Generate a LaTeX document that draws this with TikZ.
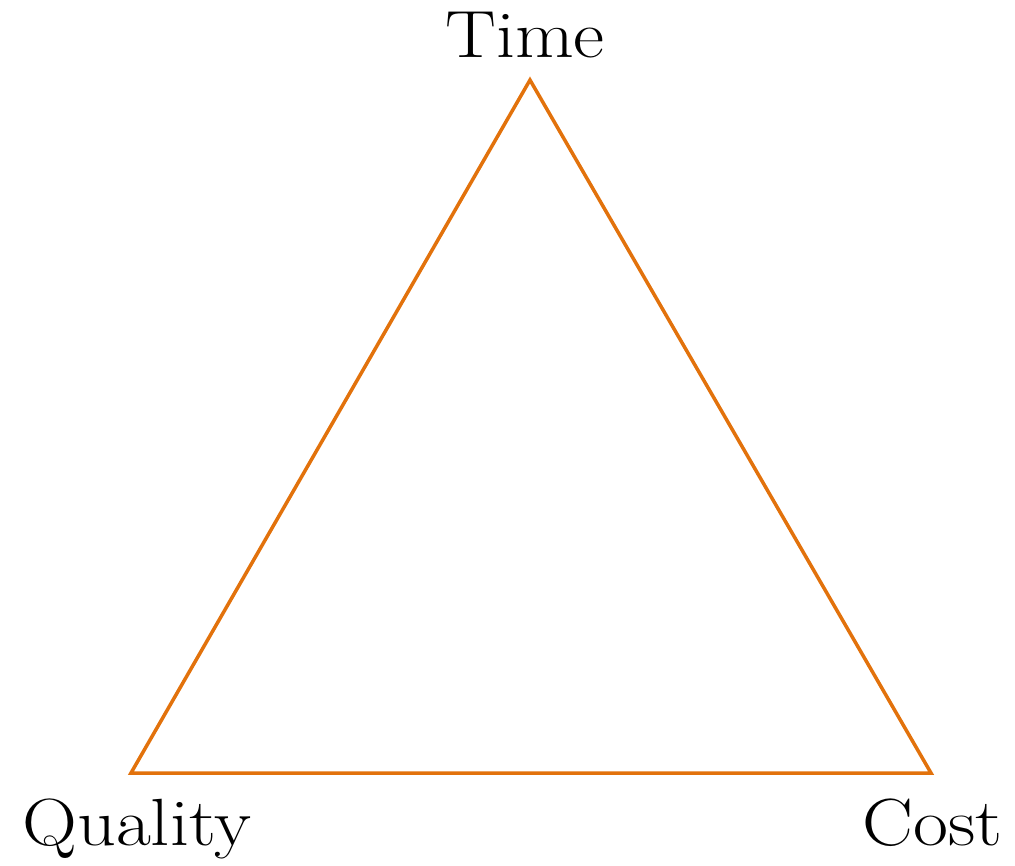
\documentclass[tikz,border=0pt]{standalone}
\usepackage{fontspec}
\usepackage{tikz}
\usetikzlibrary{positioning,calc}
\newfontfamily\labelfont{Latin Modern Roman}[FakeStretch=1.14]
\definecolor{edgeorange}{RGB}{226,114,12}
\tikzset{
corner/.style = {inner sep=0pt, minimum size=0pt},
label/.style = {inner sep=0pt, font=\labelfont\fontsize{38}{40}\selectfont, anchor=base},
side/.style = {draw=edgeorange, line width=2pt, line join=miter}
}
\begin{document}
\begin{tikzpicture}[x=0.02cm,y=-0.02cm]
    \useasboundingbox (0,0) rectangle (1015,866);
    \coordinate (top) at (530,80);
    \coordinate (left) at (131,773);
    \coordinate (right) at (931,773);

    \node [label, name=time] at (525,57) {Time};
    \node [label, name=quality, anchor=base west] at (22,845) {Quality};
    \node [label, name=cost, anchor=base east] at (1003,845) {Cost};

    \draw [side] (top) -- (right) -- (left) -- cycle;
\end{tikzpicture}
\end{document}
